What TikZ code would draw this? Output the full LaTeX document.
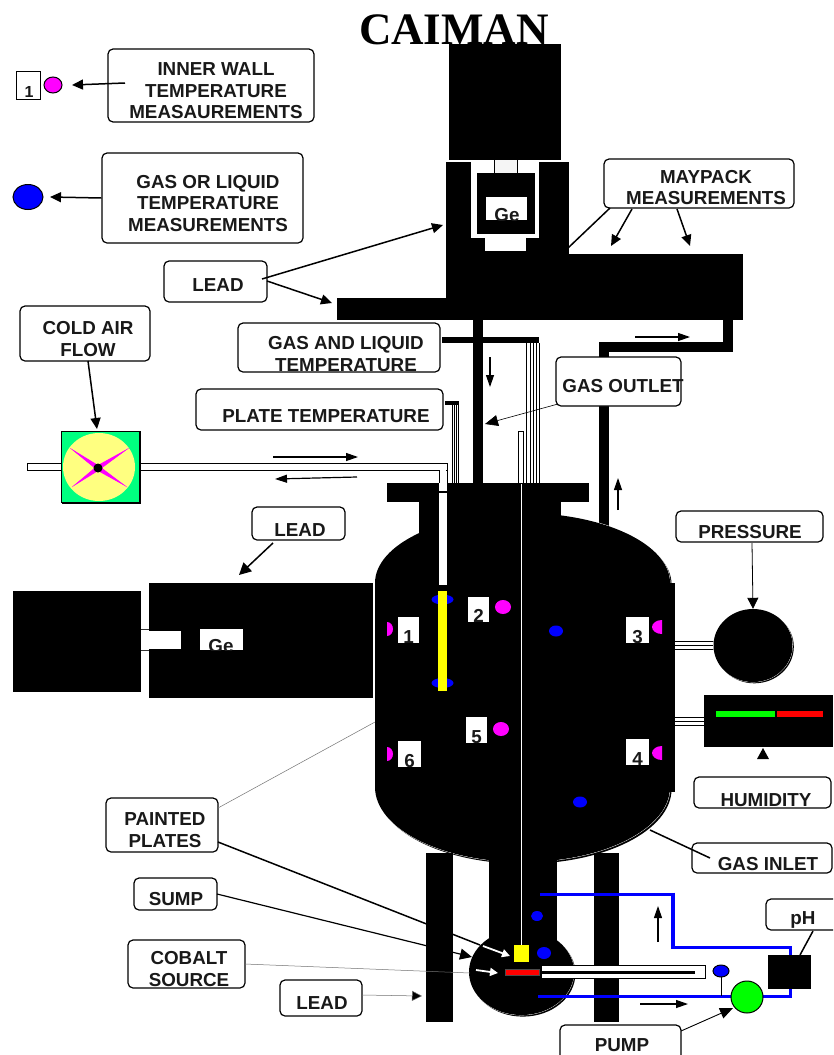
\documentclass[tikz,border=0pt]{standalone}
\usepackage{fontspec}
\setmainfont{Liberation Sans}
\newfontfamily\titlefont{Liberation Serif}
\usetikzlibrary{arrows.meta,calc,shapes.geometric}
\definecolor{mag}{RGB}{255,0,255}
\definecolor{blu}{RGB}{0,0,255}
\definecolor{grn}{RGB}{0,255,0}
\definecolor{fangreen}{RGB}{0,255,128}
\definecolor{fanyellow}{RGB}{255,255,128}
\definecolor{yel}{RGB}{255,255,0}
\definecolor{rd}{RGB}{255,0,0}
\tikzset{
  lblbox/.style={draw=black,line width=1.2pt,rounded corners=5pt,fill=white,inner sep=0pt},
  lbltxt/.style={font=\fontsize{18.8}{21.5}\selectfont\bfseries,align=center,inner sep=0pt,text=black!90},
  block/.style={fill=black,draw=none},
  leader/.style={draw=black,line width=1.5pt,-{Triangle[length=11pt,width=10pt]}},
  leaderthin/.style={draw=black,line width=.8pt,-{Triangle[length=11pt,width=11pt]}},
  plainleader/.style={draw=black,line width=1.5pt},
  faint/.style={draw=black!55,line width=.5pt},
  flowarrow/.style={draw=black,line width=1.2pt,-{Triangle[length=12pt,width=8pt]}},
  whitearrow/.style={draw=white,line width=1.8pt,-{Triangle[length=8pt,width=8pt]}},
  tube/.style={fill=white,draw=black,line width=1pt},
  bluepipe/.style={draw=blu,line width=3pt},
  dotblue/.style={ellipse,fill=blu,draw=none,inner sep=0pt},
  dotmag/.style={ellipse,fill=mag,draw=none,inner sep=0pt},
}
\newcommand{\mkbox}[5]{% name x1 y1 x2 y2
  \pgfmathsetmacro{\bw}{#4-(#2)}\pgfmathsetmacro{\bh}{#5-(#3)}
  \pgfmathsetmacro{\bx}{(#2+#4)/2}\pgfmathsetmacro{\by}{(#3+#5)/2}
  \node[lblbox,minimum width=\bw pt,minimum height=\bh pt] (#1) at (\bx,\by) {};}
\newcommand{\numsq}[6]{% name x1 y1 x2 y2 digit
  \fill[white] (#2,#3) rectangle (#4,#5);
  \begin{scope}\clip (#2,#3) rectangle (#4,#5);
  \pgfmathsetmacro{\bx}{(#2+#4)/2}
  \node[lbltxt,anchor=base] (#1) at (\bx,#5+0.5) {#6};
  \end{scope}}
\newcommand{\vesselpath}{(375,583) arc[start angle=180,end angle=360,x radius=147.5,y radius=70] -- (670,787) arc[start angle=0,end angle=180,x radius=147.5,y radius=75] -- cycle}
\begin{document}
\begin{tikzpicture}[x=1pt,y=-1pt]
\clip (0,0) rectangle (833,1055);
\fill[white] (0,0) rectangle (833,1055);
% title
\node[font=\titlefont\fontsize{45}{45}\selectfont\bfseries,inner sep=0pt,anchor=base] (title) at (454,44) {CAIMAN};

% upper detector housing
\node[block,minimum width=112pt,minimum height=116pt,inner sep=0pt] (upperlead) at (505,102) {};
\fill[black] (446,162) rectangle (569,254);
\fill[white] (471,162) rectangle (539,238);
\fill[white] (485,238) rectangle (526,252);
\draw[black,line width=.8pt] (485,251.5) -- (526,251.5);
\fill[black] (477,173) rectangle (535,234);
\fill[black!4] (494,160) rectangle (517,173);
\draw[black,line width=.9pt] (494,160) -- (494,173) (517,160) -- (517,173);
\fill[white] (486,197) rectangle (527,220);
\begin{scope}\clip (486,197) rectangle (527,220);
\node[lbltxt,anchor=base] (geTop) at (507,221.5) {Ge};
\end{scope}
\fill[black] (446,254) rectangle (743,320);
\fill[black] (337,298) rectangle (446,320);

% pipes under table
\fill[black] (473,320) rectangle (483,484);
\fill[black] (442,337) rectangle (539,343);
\foreach \x in {526.5,530,533,536.5,539}{\draw[black,line width=.8pt] (\x,343) -- (\x,484);}
\fill[black] (723,320) rectangle (733,352);
\fill[black] (599,342) rectangle (733,352);
\fill[black] (599,342) rectangle (609,526);
% plate pipe
\fill[black] (445,401) rectangle (459,405);
\foreach \x in {452.5,454.5,456.5,458.5}{\draw[black,line width=1pt] (\x,405) -- (\x,484);}
% thin tube
\fill[white] (518,431) rectangle (523,484);
\draw[black,line width=.9pt] (518,484) -- (518,431) -- (523,431) -- (523,484);

% main vessel
\fill[black,shift={(1.6,1.8)}] \vesselpath;
\draw[white,line width=.8pt] \vesselpath;
\fill[black] \vesselpath;
\fill[black] (419,502) rectangle (561,540);
\fill[black] (387,483) rectangle (589,502);
\fill[black] (660,583) rectangle (675,792);
% neck & sump
\fill[black,shift={(1.4,1.6)}] (521.5,972) ellipse[x radius=52.5,y radius=43];
\draw[white,line width=.7pt] (521.5,972) ellipse[x radius=52.5,y radius=43];
\fill[black] (521.5,972) ellipse[x radius=52.5,y radius=43];
\fill[black] (489,850) rectangle (557,940);
% centre wire
\draw[white,line width=.8pt] (521,484) -- (521,945);
% white tube from fan into vessel
\fill[white] (439,469) rectangle (447,585);
\draw[black,line width=.9pt] (439,469) -- (439,483) (447,470) -- (447,483);
\draw[black,line width=1.2pt] (439,492) -- (447,492);
\draw[black,line width=.8pt] (439,585) -- (447,585);
% plate blue dots and yellow plate
\node[dotblue,minimum width=22pt,minimum height=10pt] (tb1) at (442.5,599.5) {};
\node[dotblue,minimum width=22pt,minimum height=10pt] (tb2) at (442.5,683) {};
\fill[yel] (438,591) rectangle (447,691);
% sensors
\numsq{s1}{398}{617}{419}{643}{1}
\numsq{s2}{468}{597}{489}{622}{2}
\numsq{s3}{626}{617}{649}{643}{3}
\numsq{s4}{626}{739}{649}{765}{4}
\numsq{s5}{466}{717}{487}{743}{5}
\numsq{s6}{398}{741}{421}{767}{6}
\node[dotmag,minimum width=16pt,minimum height=14pt] (m2) at (503,607) {};
\node[dotmag,minimum width=16pt,minimum height=14pt] (m5) at (501,729) {};
\fill[mag] (387,622) arc[start angle=-90,end angle=90,x radius=6,y radius=7] -- cycle;
\fill[mag] (387,747) arc[start angle=-90,end angle=90,x radius=6,y radius=7] -- cycle;
\fill[mag] (662,620) arc[start angle=270,end angle=90,x radius=10,y radius=7] -- cycle;
\fill[mag] (662,746) arc[start angle=270,end angle=90,x radius=10,y radius=7] -- cycle;
\node[dotblue,minimum width=14pt,minimum height=11pt] (b1) at (556,631) {};
\node[dotblue,minimum width=14pt,minimum height=11pt] (b2) at (580,802) {};

% left detector
\fill[black] (13,591) rectangle (141,692);
\fill[black] (149,583) rectangle (373,698);
\fill[white] (141,631) rectangle (181,649);
\draw[black!80,line width=.6pt] (141,629.5) -- (149,629.5) (141,650) -- (149,650);
\fill[white] (200,629) rectangle (243,650);
\begin{scope}\clip (200,629) rectangle (243,650);
\node[lbltxt,anchor=base] (geLeft) at (221,652.5) {Ge};
\end{scope}

% fan and air tube
\draw[tube] (27,463.5) rectangle (447,470);
\draw[white,line width=1.5pt] (440,470) -- (446,470);
\node[rectangle,fill=fangreen,draw=black,line width=1pt,minimum width=78pt,minimum height=71pt,inner sep=0pt] (fan) at (100.5,467) {};
\draw[black,line width=1.8pt] (62,503) -- (140,503) -- (140,431);
\fill[fanyellow] (99,467) ellipse[x radius=36,y radius=34];
\foreach \ex/\ey in {70/448,129/448,72/487,127/487}{
  \fill[mag] (\ex,\ey) -- (98,465) -- (98,471) -- cycle;
  \fill[mag] (\ex,\ey) -- (95,468) -- (101,468) -- cycle;}
\node[circle,fill=black,minimum size=9pt,inner sep=0pt] (hub) at (98,468) {};

% pressure gauge and humidity
\foreach \y in {641.5,645.5,649.5}{\draw[black,line width=1.1pt] (675,\y) -- (714,\y);}
\fill[black,shift={(1.3,1.3)}] (753,645.5) ellipse[x radius=39.5,y radius=36.5];
\draw[white,line width=.7pt] (753,645.5) ellipse[x radius=39.5,y radius=36.5];
\fill[black] (753,645.5) ellipse[x radius=39.5,y radius=36.5];
\node[circle,minimum size=0pt,inner sep=0pt] (gauge) at (753,609) {};
\foreach \y in {717.5,721.5,725.5}{\draw[black,line width=1.1pt] (675,\y) -- (704,\y);}
\fill[black] (704,695) rectangle (833,747);
\fill[grn] (716,711) rectangle (775,717);
\fill[rd] (777,711) rectangle (823,717);
\fill[black] (763,748) -- (757,759) -- (769,759) -- cycle;

% lead columns
\node[block,minimum width=27pt,minimum height=169pt,inner sep=0pt] (colL) at (439.5,937.5) {};
\node[block,minimum width=25pt,minimum height=169pt,inner sep=0pt] (colR) at (606.5,937.5) {};

% cobalt tube
\draw[tube] (541,965) rectangle (705,978);
\fill[black] (541,970.5) rectangle (695,973.5);
\fill[rd,draw=black!70,line width=.8pt] (505,969) rectangle (539,975.5);
\node[rectangle,fill=yel,minimum width=15pt,minimum height=17pt,inner sep=0pt] (sumpY) at (521.5,953.5) {};
\node[dotblue,minimum width=14pt,minimum height=12pt] (b3) at (544,953) {};
\node[dotblue,minimum width=12pt,minimum height=10pt] (b4) at (537,916) {};

% loop piping
\draw[bluepipe] (540,894) -- (672,894);
\draw[blu,line width=4pt] (673,892.5) -- (673,947);
\draw[bluepipe] (671,947) -- (790,947) -- (790,956);
\draw[bluepipe] (538,996) -- (732,996);
\draw[bluepipe] (762,996) -- (790,996) -- (790,988);
\node[rectangle,fill=black,minimum width=43pt,minimum height=34pt,inner sep=0pt] (phbox) at (789.5,972) {};
\draw[black,line width=1pt] (721,977) -- (721,996);
\node[ellipse,fill=blu,draw=black,line width=1pt,minimum width=16pt,minimum height=12pt,inner sep=0pt] (bs) at (721,971) {};
\node[circle,fill=grn,draw=black,line width=1pt,minimum size=32pt,inner sep=0pt] (pump) at (747,997) {};

% key symbols
\node[rectangle,draw=black,line width=1pt,fill=white,minimum width=24pt,minimum height=28pt,inner sep=0pt] (keySq) at (28,85) {};
\node[lbltxt,anchor=base,font=\fontsize{16}{16}\selectfont\bfseries] (keyNum) at (29,97) {1};
\node[ellipse,fill=mag,draw=black,line width=1pt,minimum width=18pt,minimum height=16pt,inner sep=0pt] (keyM) at (53,85) {};
\node[ellipse,fill=blu,draw=black,line width=1pt,minimum width=30pt,minimum height=25pt,inner sep=0pt] (keyB) at (28,197) {};

% label boxes
\mkbox{bInner}{108}{49}{314}{122}
\mkbox{bGas}{102}{153}{303}{243}
\mkbox{bLeadA}{164}{261}{267}{302}
\mkbox{bCold}{20}{306}{150}{361}
\mkbox{bGL}{238}{323}{440}{372}
\mkbox{bPlate}{196}{389}{443}{430}
\mkbox{bMay}{604}{159}{794}{208}
\mkbox{bOut}{556}{357}{681}{406}
\mkbox{bLeadB}{252}{507}{345}{540}
\mkbox{bPress}{676}{511}{823}{542}
\mkbox{bHum}{694}{777}{831}{808}
\mkbox{bInlet}{692}{843}{832}{873}
\mkbox{bPaint}{106}{798}{218}{852}
\mkbox{bSump}{134}{878}{217}{910}
\mkbox{bCob}{128}{940}{245}{988}
\mkbox{bLeadC}{280}{980}{362}{1016}
\mkbox{bPump}{560}{1025}{681}{1070}
\mkbox{bPh}{766}{899}{850}{930}

\node[lbltxt] (tInner) at (216,91) {INNER WALL\\TEMPERATURE\\MEASAUREMENTS};
\node[lbltxt] (tGas) at (208,203.5) {GAS OR LIQUID\\TEMPERATURE\\MEASUREMENTS};
\node[lbltxt] (tLeadA) at (218,285) {LEAD};
\node[lbltxt] (tCold) at (88,339) {COLD AIR\\FLOW};
\begin{scope}\clip (238,323) rectangle (440,371);
\node[lbltxt] (tGL) at (346,354) {GAS AND LIQUID\\TEMPERATURE};
\end{scope}
\node[lbltxt] (tPlate) at (326,416) {PLATE TEMPERATURE};
\node[lbltxt] (tMay) at (706,187.5) {MAYPACK\\MEASUREMENTS};
\node[lbltxt] (tOut) at (623,386) {GAS OUTLET};
\node[lbltxt] (tLeadB) at (300,530) {LEAD};
\node[lbltxt] (tPress) at (750,532) {PRESSURE};
\node[lbltxt] (tHum) at (766,800) {HUMIDITY};
\node[lbltxt] (tInlet) at (768,864) {GAS INLET};
\node[lbltxt] (tPaint) at (165,830) {PAINTED\\PLATES};
\node[lbltxt] (tSump) at (176,899) {SUMP};
\node[lbltxt] (tCob) at (189,969) {COBALT\\SOURCE};
\node[lbltxt] (tLeadC) at (322,1003) {LEAD};
\node[lbltxt] (tPump) at (622,1045) {PUMP};
\node[lbltxt] (tPh) at (803,920) {pH};

% connector ends
\coordinate (cInnerS) at (125,83);
\coordinate (cInnerT) at (72,85);
\coordinate (cGasT) at (50,197);
\coordinate (cLeadA1) at (262,279);
\coordinate (cLeadA1T) at (443,225);
\coordinate (cLeadA2) at (267,281);
\coordinate (cLeadA2T) at (332,303);
\coordinate (cColdS) at (88,361);
\coordinate (cColdT) at (97,429);
\coordinate (cOutS) at (558,404);
\coordinate (cOutT) at (485,424);
\coordinate (cMay0) at (610,208);
\coordinate (cMay0T) at (568,248);
\coordinate (cMay1) at (632,209);
\coordinate (cMay1T) at (611,246);
\coordinate (cMay2) at (677,209);
\coordinate (cMay2T) at (690,246);
\coordinate (cLeadBS) at (273,543);
\coordinate (cLeadBT) at (239,575);
\coordinate (cPressS) at (752,543);
\coordinate (cInS) at (650,830);
\coordinate (cInT) at (710,858);
\coordinate (cPaint1) at (218,808);
\coordinate (cPaint1T) at (375,722);
\coordinate (cPaint2) at (218,842);
\coordinate (cPaint2T) at (480,945);
\coordinate (cSumpS) at (217,894);
\coordinate (cSumpT) at (472,957);
\coordinate (cCobS) at (245,964);
\coordinate (cCobT) at (470,973);
\coordinate (cLeadCS) at (362,995);
\coordinate (cLeadCT) at (422,996);
\coordinate (cPumpS) at (681,1031);
\coordinate (cPumpT) at (733,1008);
\coordinate (cPhS) at (813,931);
\coordinate (cPhT) at (800,955);

% connectors
\draw[leader] (cInnerS) -- (cInnerT);
\draw[leader] (bGas.west) -- (cGasT);
\draw[leader] (cLeadA1) -- (cLeadA1T);
\draw[leader] (cLeadA2) -- (cLeadA2T);
\draw[leader] (cColdS) -- (cColdT);
\draw[draw=black,line width=.6pt,-{Triangle[length=13pt,width=11pt]}] (cOutS) -- (cOutT);
\draw[plainleader] (cMay0) -- (cMay0T);
\draw[leader] (cMay1) -- (cMay1T);
\draw[leader] (cMay2) -- (cMay2T);
\draw[leader,-{Triangle[length=12pt,width=12pt]}] (cLeadBS) -- (cLeadBT);
\draw[leaderthin] (cPressS) -- (gauge);
\draw[plainleader] (cInS) -- (cInT);
\draw[faint] (cPaint1) -- (cPaint1T);
\draw[plainleader] (cPaint2) -- (cPaint2T);
\draw[plainleader,line width=1.2pt,-{Triangle[length=12pt,width=11pt]}] (cSumpS) -- (cSumpT);
\draw[faint] (cCobS) -- (cCobT);
\draw[faint,-{Triangle[length=10pt,width=10pt,fill=black]}] (cLeadCS) -- (cLeadCT);
\draw[draw=black,line width=.9pt,-{Triangle[length=13pt,width=11pt]}] (cPumpS) -- (cPumpT);
\draw[plainleader] (cPhS) -- (cPhT);

% flow arrows
\coordinate (fa1) at (635,337); \coordinate (fa1e) at (690,337);
\coordinate (fa2) at (490,357); \coordinate (fa2e) at (490,387);
\coordinate (fa3) at (618,510); \coordinate (fa3e) at (618,478);
\coordinate (fa4) at (273,457); \coordinate (fa4e) at (358,457);
\coordinate (fa5) at (357,477); \coordinate (fa5e) at (275,479);
\coordinate (fa6) at (658,942); \coordinate (fa6e) at (658,906);
\coordinate (fa7) at (640,1004); \coordinate (fa7e) at (688,1004);
\foreach \a/\b in {fa1/fa1e,fa2/fa2e,fa3/fa3e,fa4/fa4e,fa5/fa5e,fa6/fa6e,fa7/fa7e}{\draw[flowarrow] (\a) -- (\b);}
\coordinate (wa1) at (483,946); \coordinate (wa1e) at (510,956);
\coordinate (wa2) at (476,970); \coordinate (wa2e) at (498,973);
\draw[whitearrow] (wa1) -- (wa1e);
\draw[whitearrow] (wa2) -- (wa2e);
\end{tikzpicture}
\end{document}
